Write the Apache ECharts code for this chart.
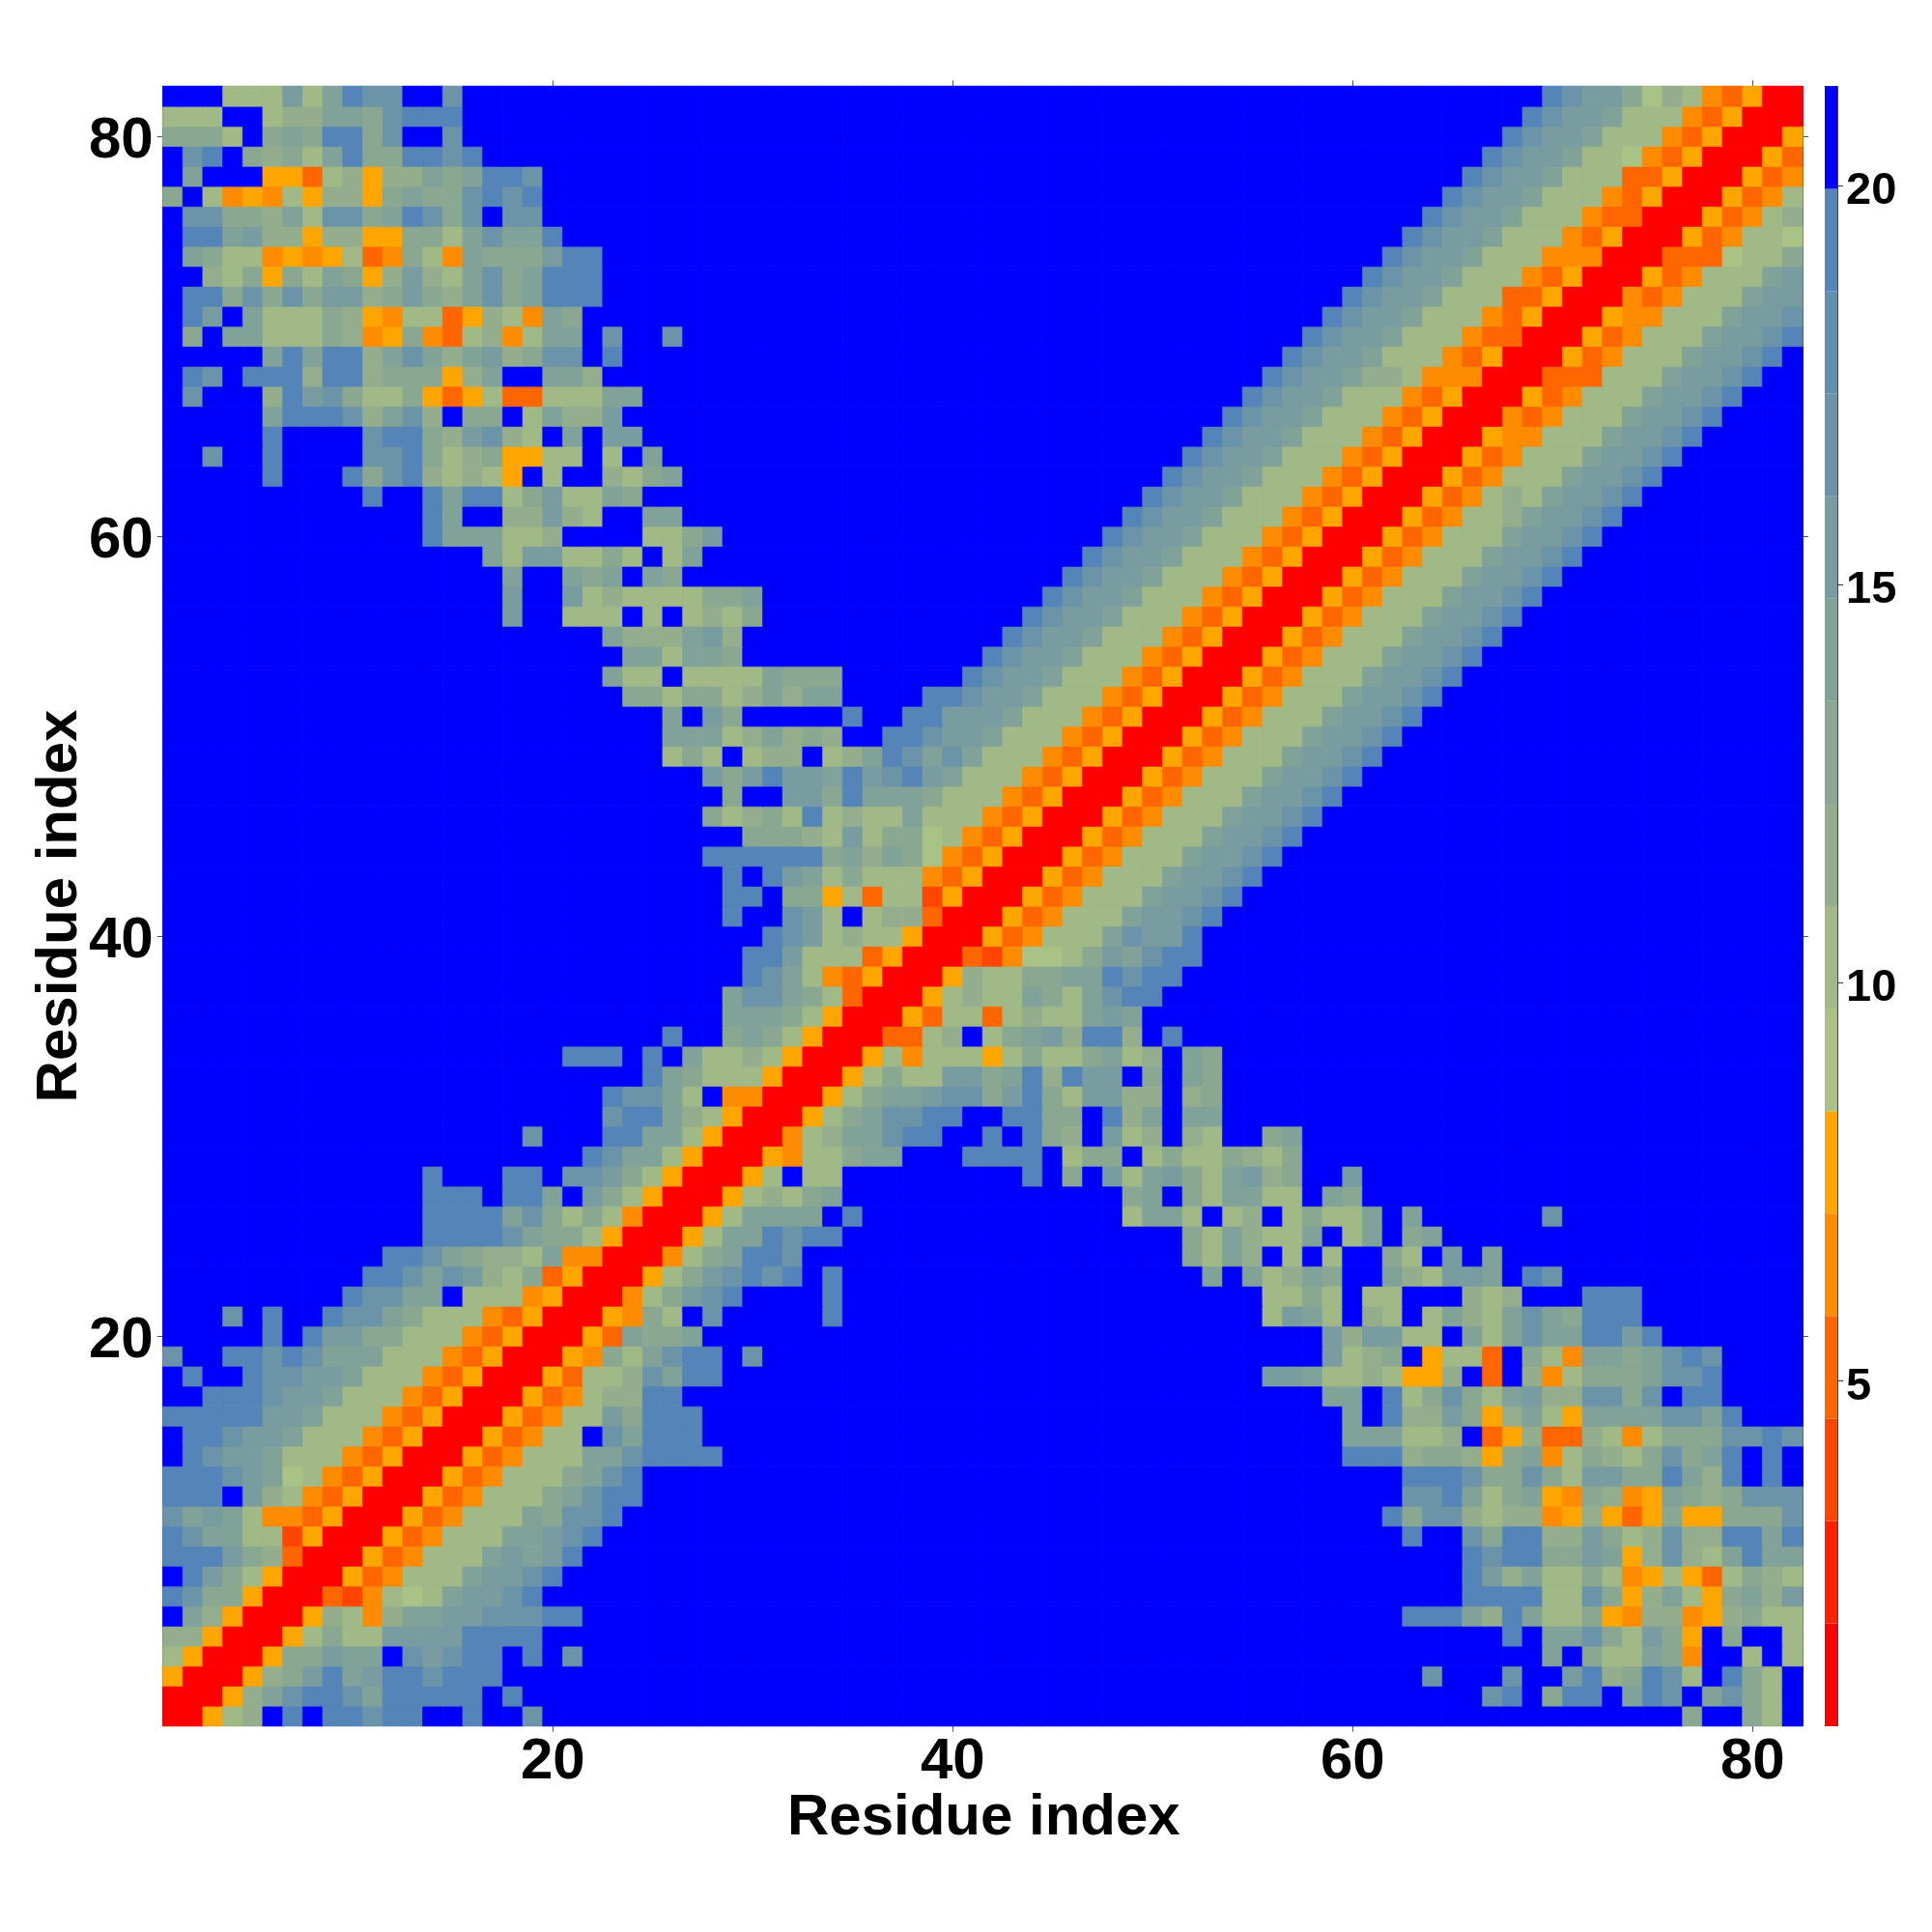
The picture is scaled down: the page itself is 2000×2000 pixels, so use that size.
<!DOCTYPE html>
<html><head><meta charset="utf-8">
<style>html,body{margin:0;padding:0;background:#fff}#c{width:2000px;height:2000px}</style>
<script src="https://cdn.jsdelivr.net/npm/echarts@6/dist/echarts.min.js"></script>
</head><body><div id="c"></div>
<script>
// Each row: "startColumn:levels" runs (hex level of the colour scale); unlisted cells are level f (blue).
// Rows run from residue 82 down to residue 1 and hold columns up to the diagonal; the map is symmetric.
const halfRows = [
"4:777b7aecc 15:c 70:ecbb968743500",
"1:777 6:788aa9ceee 69:ecbba77743500",
"1:9997f9a9ee9cffc 68:ecbba77743500",
"2:cef9897ae99eece 67:ecbba77643500",
"2:afff55378588a9aeec 66:ecbba77733500",
"1:9f7454758859a99cece 65:ecbba77743500",
"2:cc998a7cc9aec9cfcc 64:ecbba77743300",
"2:eeab8858855997acaae 63:ecbba77743500",
"2:a9774545734974a999bee 62:ecbba77744400",
"3:879597a958b87ac9aeee 61:ecbba77743500",
"2:ee9c9c9bb89b98ac9aeee 60:ecbba77733500",
"2:ebfa77798547735874a9 59:ecbba77743500",
"2:9faa77798459437847aafc 26:c 58:ecbba77743300",
"6:aeaee8aca8ab89ccfe 57:ecbba77743500",
"2:ecfeee8ee899958affaa8 56:ecbba88744400",
"2:c 6:8ebc9779535733777aa 55:ecbba77743500",
"6:aeeec8ac8f99f7a88b 54:ecbba77743500",
"6:e 11:cee98bc87fafbb 53:ecbba77743500",
"3:c 6:e 11:cce97895577f7fa 52:ecbba77743500",
"6:e 10:e9ce87875f7ff879a 51:ecbba77743500",
"11:e 14:eaee79b77a9 50:ecbba77743500",
"14:ea 18:88b87 25:aa 49:ecbba77743500",
"14:eaaa778 25:779b 48:ecbba77743500",
"17:a7bb7797f7a 47:ecbba77743500",
"18:a 21:a9a 25:a9 46:ecbba77743500",
"18:b 21:b78777799a 45:ecbba77743500",
"18:b 21:777 25:7 27:7879 44:ecbba77743500",
"23:a888ab8 43:ecbba77743500",
"24:aa7aa9 42:ecbba77743500",
"23:a77 27:7777a999 41:ecbba77743500",
"24:9979978a8aa 39:eecbba77743500",
"26:afb9 35:e 38:eebbba77743500",
"26:aaa78a898 37:eecbba77743500",
"26:797f788f78aecaca77743500",
"28:b9bebbaebceba77743500",
"29:9 32:bb9eaaa977743500",
"28:97897e7877a77743500",
"30:99987b7996743500",
"28:eeeeee9a8a9643500",
"29:efeba7977743500",
"29:eef99573772500",
"29:effcb7f788300",
"31:ecb7877500",
"30:eeb7773500",
"30:eca743500",
"29:acca97300",
"29:aaa97500",
"26:e 29:9a97500",
"21:eee 25:efa7787500",
"25:ea9777500",
"23:ecca7f4400",
"23:ceea87500",
"19:c 23:eeaa7500",
"22:ecaa7500",
"14:e 18:ee 21:ccb97500",
"14:eee 18:eeafb97500",
"14:eeeeac9797400",
"14:eeeeca997500",
"12:eeca9887a4400",
"11:eecacb8793500",
"10:eccaaf7774500",
"4:c 6:e 9:ecca977743500",
"6:e 8:ebb9977743500",
"1:c 4:eececaaa77743500",
"2:e 5:eccbba77743500",
"3:eeecbba77743500",
"1:eeeeebba77743500",
"2:eecbba77743500",
"2:ecbba77743500",
"1:eeecba6743500",
"1:eeefb8743500",
"1:caba7443500",
"1:ecaa772500",
"1:eeeb98300",
"2:eb97500",
"1:ec99500",
"2:a8500",
"1:88500",
"1:7500",
"1:500",
"1:00",
"1:0"
];
const residues = Array.from({length:82},(_,i)=>String(i+1));
const tickResidues = ["20","40","60","80"];
const scaleColors = ["#ff0000","#ff2000","#ff4500","#ff6600","#ff8c00","#ffa500","#a9c286","#a0b986","#94ae8d","#8aa891","#81a298","#789c9f","#6c94a8","#6090b0","#5585b8","#0000ff"];
const scaleMin = 0.67, scaleMax = 21.25;
const scaleTicks = [5,10,15,20];
const axisTitle = "Residue index";

const step = (scaleMax-scaleMin)/scaleColors.length;
const N = residues.length;
const levels = residues.map(()=>residues.map(()=>15));
halfRows.forEach((row,ri)=>{
  const y = N-1-ri;
  row.split(' ').forEach(run=>{
    const [s,d] = run.split(':');
    [...d].forEach((ch,k)=>{
      const x = +s-1+k, v = parseInt(ch,16);
      levels[y][x] = v; levels[x][y] = v;
    });
  });
});
const cells = [];
levels.forEach((r,y)=>r.forEach((v,x)=>cells.push({
  value:[x,y,scaleMin+(v+0.5)*step],
  itemStyle:{borderColor:scaleColors[v],borderWidth:0.6}
})));

const F = "'Liberation Sans',Arial,sans-serif";
const isTick = (i,v)=>tickResidues.includes(String(v));
const line = {show:true,onZero:false,lineStyle:{color:'#444',width:1}};
const G = {left:168.7,top:89.3,width:1697.3,height:1697.4,outerBoundsMode:'none',containLabel:false};
const tickStyle = {lineStyle:{color:'#555',width:1},length:6};
const titleStyle = {fontFamily:F,fontWeight:'bold',fontSize:60,color:'#000'};

const chart = echarts.init(document.getElementById('c'),null,{renderer:'canvas',width:2000,height:2000});
chart.setOption({
  animation:false,backgroundColor:'#fff',
  grid:[G,{left:1889,top:89.3,width:13,height:1697.4,outerBoundsMode:'none',containLabel:false}],
  xAxis:[
    {type:'category',gridIndex:0,data:residues,position:'bottom',axisLine:line,
     axisTick:{show:true,alignWithLabel:true,interval:isTick,...tickStyle},
     axisLabel:{show:true,interval:isTick,fontFamily:F,fontWeight:'bold',fontSize:60,color:'#000',margin:8},
     splitLine:{show:false},
     name:axisTitle,nameLocation:'middle',nameGap:66,nameMoveOverlap:false,nameTextStyle:{...titleStyle,padding:[0,0,0,2]}},
    {type:'category',gridIndex:0,data:residues,position:'top',axisLine:line,
     axisTick:{show:true,alignWithLabel:true,interval:isTick,...tickStyle},axisLabel:{show:false},splitLine:{show:false}},
    {type:'category',gridIndex:1,data:['s'],position:'bottom',axisLine:line,axisTick:{show:false},axisLabel:{show:false}},
    {type:'category',gridIndex:1,data:['s'],position:'top',axisLine:line,axisTick:{show:false},axisLabel:{show:false}}
  ],
  yAxis:[
    {type:'category',gridIndex:0,data:residues,position:'left',axisLine:line,
     axisTick:{show:true,alignWithLabel:true,interval:isTick,...tickStyle},
     axisLabel:{show:true,interval:isTick,margin:10,formatter:'{n|{value}}',
       rich:{n:{fontFamily:F,fontWeight:'bold',fontSize:60,color:'#000',padding:[10,0,0,0]}}},
     splitLine:{show:false},
     name:axisTitle,nameLocation:'middle',nameGap:76,nameRotate:90,nameMoveOverlap:false,nameTextStyle:titleStyle},
    {type:'category',gridIndex:0,data:residues,position:'right',axisLine:line,
     axisTick:{show:true,alignWithLabel:true,interval:isTick,...tickStyle},axisLabel:{show:false},splitLine:{show:false}},
    {type:'value',gridIndex:1,min:scaleMin,max:scaleMax,position:'right',axisLine:line,splitLine:{show:false},
     axisTick:{show:true,customValues:scaleTicks,length:6,lineStyle:{color:'#333',width:1}},
     axisLabel:{show:true,customValues:scaleTicks,margin:9,formatter:'{n|{value}}',
       rich:{n:{fontFamily:F,fontWeight:'bold',fontSize:47,color:'#000',padding:[12,0,0,0]}}}},
    {type:'value',gridIndex:1,min:scaleMin,max:scaleMax,position:'left',axisLine:line,splitLine:{show:false},axisTick:{show:false},axisLabel:{show:false}}
  ],
  visualMap:{type:'piecewise',show:false,seriesIndex:0,dimension:2,
    pieces:scaleColors.map((c,i)=>({min:scaleMin+i*step,max:scaleMin+(i+1)*step,color:c}))},
  series:[
    {type:'heatmap',xAxisIndex:0,yAxisIndex:0,data:cells,progressive:0,emphasis:{disabled:true}},
    ...scaleColors.map((c,i)=>({type:'bar',xAxisIndex:2,yAxisIndex:2,stack:'scale',barWidth:'100%',silent:true,
      itemStyle:{color:c},data:[i===0?scaleMin+step:step]}))
  ]
});
</script></body></html>
